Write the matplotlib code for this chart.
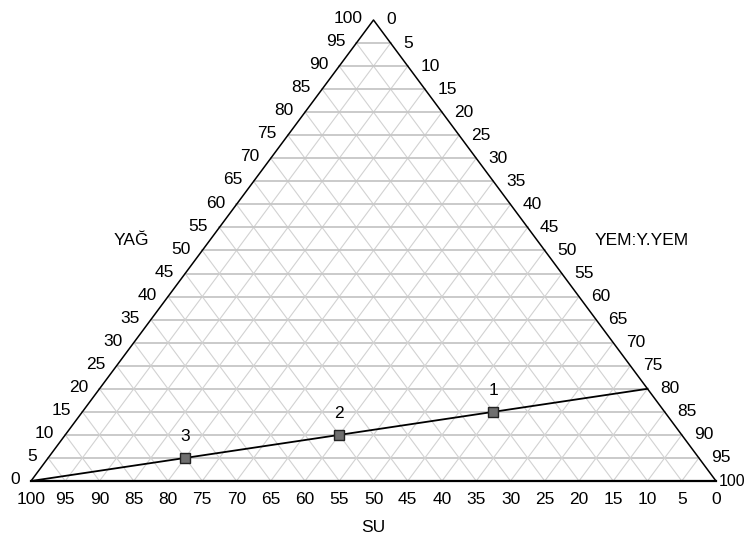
import matplotlib
matplotlib.use("Agg")
import matplotlib.pyplot as plt
import numpy as np

plt.rcParams['font.family'] = ['Liberation Sans', 'DejaVu Sans']

# ternary components: SU (bottom), YAG (left), YEM:Y.YEM (right)
ticks = list(range(0, 101, 5))

point_names = ['1', '2', '3']
su_pts = [25, 50, 75]
yag_pts = [15, 10, 5]
yem_pts = [60, 40, 20]

# mixing line from the pure SU corner to the YAG:YEM = 1:4 edge
su_line = [100, 0]
yag_line = [0, 20]
yem_line = [0, 80]

W, H = 749, 541
fig = plt.figure(figsize=(W / 100, H / 100), dpi=100)
# triangle corners in pixels: left (31,481), right (716,481), apex (373,20)
ax = fig.add_axes([31 / W, (H - 481) / H, 685 / W, 461 / H])
ax.set_xlim(0, 100)
ax.set_ylim(0, 100)
ax.axis('off')


def tern(yag, yem):
    yag = np.asarray(yag, dtype=float)
    yem = np.asarray(yem, dtype=float)
    return yem + yag / 2.0, yag


fs = 12.5
grid_h = dict(color='#c6c6c6', lw=1.3, zorder=1)
grid_d = dict(color='#d2d2d2', lw=0.8, zorder=1)

for v in ticks[1:-1]:
    # constant YAG (horizontal)
    x, y = tern([v, v], [0, 100 - v])
    ax.plot(x, y, **grid_h)
    # constant YEM (parallel to left edge)
    x, y = tern([0, 100 - v], [v, v])
    ax.plot(x, y, **grid_d)
    # constant SU (parallel to right edge)
    x, y = tern([100 - v, 0], [0, 100 - v])
    ax.plot(x, y, **grid_d)

# outline
x, y = tern([0, 0, 100, 0], [0, 100, 0, 0])
ax.plot(x, y, color='black', lw=1.1, zorder=3, clip_on=False)
ax.plot([0, 100], [0, 0], color='black', lw=1.6, zorder=3, clip_on=False)

# tick labels
for v in ticks:
    # left edge: YAG
    x, y = tern(v, 0)
    ax.annotate(str(v), (x, y), xytext=(-8, 1), textcoords='offset points',
                ha='right', va='center', fontsize=fs, annotation_clip=False)
    # right edge: YEM:Y.YEM (last one squeezed into the corner)
    x, y = tern(100 - v, v)
    if v == 100:
        ax.annotate(str(v), (x, y), xytext=(2, 0), textcoords='offset points',
                    ha='left', va='center', fontsize=11.5, annotation_clip=False)
    else:
        ax.annotate(str(v), (x, y), xytext=(9, 0), textcoords='offset points',
                    ha='left', va='center', fontsize=fs, annotation_clip=False)
    # bottom edge: SU
    x, y = tern(0, 100 - v)
    ax.annotate(str(v), (x, y), xytext=(0, -13), textcoords='offset points',
                ha='center', va='center', fontsize=fs, annotation_clip=False)

# mixing line and samples
lx, ly = tern(yag_line, yem_line)
ax.plot(lx, ly, color='black', lw=1.3, zorder=4, clip_on=False)
px, py = tern(yag_pts, yem_pts)
ax.plot(px, py, 's', ms=7.3, mfc='#6f6f6f', mec='#222222', mew=1.0,
        zorder=5, clip_on=False)
for name, x, y in zip(point_names, px, py):
    ax.annotate(name, (x, y), xytext=(0, 15.5), textcoords='offset points',
                ha='center', va='center', fontsize=fs)

# axis titles
fig.text(131 / W, 1 - 240 / H, 'YAĞ', ha='center', va='center', fontsize=fs)
fig.text(642 / W, 1 - 240 / H, 'YEM:Y.YEM', ha='center', va='center', fontsize=fs)
fig.text(373 / W, 1 - 527 / H, 'SU', ha='center', va='center', fontsize=fs)

fig.savefig('out.png', dpi=100, facecolor='white')
